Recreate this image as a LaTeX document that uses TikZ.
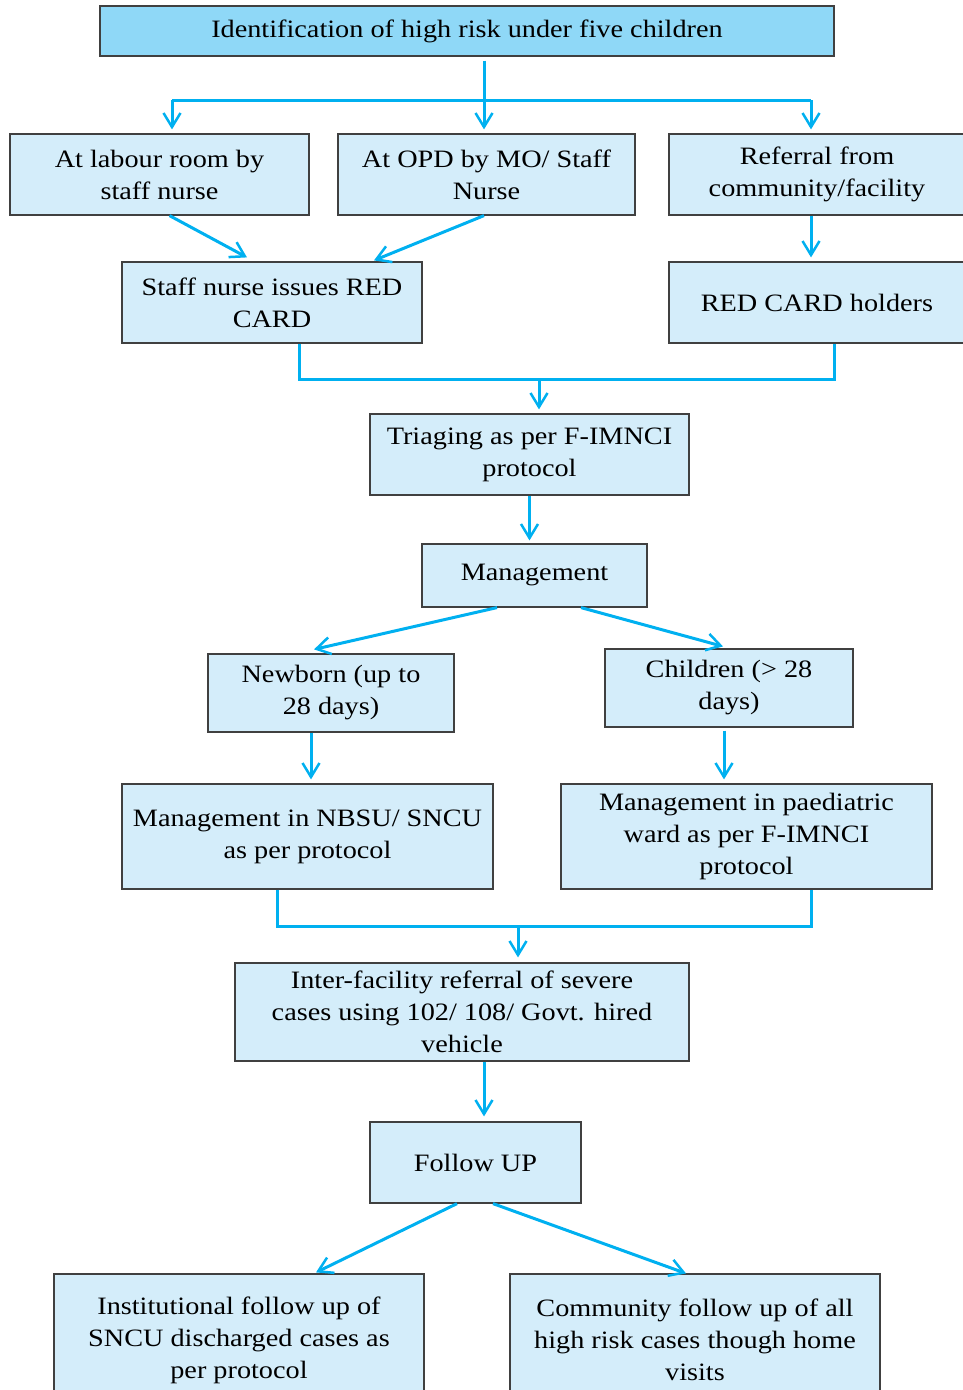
\documentclass[tikz,border=0pt]{standalone}
\usepackage{fontspec}
\setmainfont[FakeStretch=1.13]{Liberation Serif}
\usepackage{xcolor}
\definecolor{flow-blue}{RGB}{0,176,240}
\definecolor{head-fill}{RGB}{143,216,247}
\definecolor{box-fill}{RGB}{212,237,250}
\definecolor{box-line}{RGB}{64,64,64}
\usetikzlibrary{arrows.meta,calc}

\begin{document}
\begin{tikzpicture}[x=1pt,y=-1pt,
	stepbox/.style={draw=box-line,line width=1.2pt,fill=box-fill,align=center,
		inner sep=0pt,font=\fontsize{25}{32}\selectfont},
	wire/.style={draw=flow-blue,line width=3pt},
	flow/.style={wire,-{Straight Barb[length=14pt,width=17pt,line width=2.5pt]}},
	]
	
	\clip (0,0) rectangle (963,1390);
	
	% boxes
	\node[stepbox,fill=head-fill,minimum width=734pt,minimum height=50pt] (top) at (467,31)
		{Identification of high risk under five children};
	\node[stepbox,minimum width=299pt,minimum height=81pt] (labour) at (159.5,174.5)
		{At labour room by\\staff nurse};
	\node[stepbox,minimum width=297pt,minimum height=81pt] (opd) at (486.5,174.5)
		{At OPD by MO/ Staff\\Nurse};
	\node[stepbox,minimum width=296pt,minimum height=81pt] (referral) at (817,174.5)
		{Referral from\\community/facility};
	\node[stepbox,minimum width=300pt,minimum height=81pt] (issue) at (272,302.5)
		{Staff nurse issues RED\\CARD};
	\node[stepbox,minimum width=296pt,minimum height=81pt] (holders) at (817,302.5)
		{RED CARD holders};
	\node[stepbox,minimum width=319pt,minimum height=81pt] (triage) at (529.5,454.5)
		{Triaging as per F-IMNCI\\protocol};
	\node[stepbox,minimum width=225pt,minimum height=63pt] (manage) at (534.5,575.5)
		{Management};
	\node[stepbox,minimum width=246pt,minimum height=78pt] (newborn) at (331,693)
		{Newborn (up to\\28 days)};
	\node[stepbox,minimum width=248pt,minimum height=78pt] (child) at (729,688)
		{Children (> 28\\days)};
	\node[stepbox,minimum width=371pt,minimum height=105pt] (sncu) at (307.5,836.5)
		{Management in NBSU/ SNCU\\as per protocol};
	\node[stepbox,minimum width=371pt,minimum height=105pt] (ward) at (746.5,836.5)
		{Management in paediatric\\ward as per F-IMNCI\\protocol};
	\node[stepbox,minimum width=454pt,minimum height=98pt] (transfer) at (462,1012)
		{Inter-facility referral of severe\\cases using 102/ 108/ Govt. hired\\vehicle};
	\node[stepbox,minimum width=211pt,minimum height=81pt] (follow) at (475.5,1162.5)
		{Follow UP};
	\node[stepbox,minimum width=370pt,minimum height=132pt] (inst) at (239,1340)
		{Institutional follow up of\\SNCU discharged cases as\\per protocol};
	\node[stepbox,minimum width=370pt,minimum height=132pt] (home) at (695,1340)
		{Community follow up of all\\high risk cases though home\\visits};
	
	% branch points
	\coordinate (split) at (484,100);
	\coordinate (splitL) at (172,100);
	\coordinate (splitR) at (811,100);
	\coordinate (joinA) at (834,379);
	\coordinate (joinAm) at (539,379);
	\coordinate (joinB) at (811,926);
	\coordinate (joinBm) at (518,926);
	
	% connectors
	\draw[flow,shorten <=4pt,shorten >=4pt] (top.south -| split) -- (opd.north -| split);
	\draw[wire] (splitL) -- (splitR);
	\draw[flow,shorten >=4pt] (splitL) -- (labour.north -| splitL);
	\draw[flow,shorten >=4pt] (splitR) -- (referral.north -| splitR);
	
	\draw[flow] ([xshift=10pt]labour.south) -- ([xshift=-25pt,yshift=4pt]issue.north);
	\draw[flow] ([xshift=-2.5pt]opd.south) -- ([xshift=102pt,yshift=1pt]issue.north);
	\draw[flow,shorten >=4pt] (referral.south -| splitR) -- (holders.north -| splitR);
	
	\draw[wire] ([xshift=27pt]issue.south) |- (joinA) -- ([xshift=17pt]holders.south);
	\draw[flow,shorten >=4pt] (joinAm) -- (triage.north -| joinAm);
	
	\draw[flow,shorten >=3pt] (triage.south) -- (triage.south |- manage.north);
	\draw[flow] ([xshift=-37.5pt]manage.south) -- ([xshift=-17pt,yshift=4pt]newborn.north);
	\draw[flow] ([xshift=46.5pt]manage.south) -- ([xshift=-6pt,yshift=2pt]child.north);
	
	\draw[flow,shorten >=4pt] ([xshift=-20pt]newborn.south) -- ([xshift=3.5pt]sncu.north);
	\draw[flow,shorten <=3pt,shorten >=4pt] ([xshift=-5pt]child.south) -- ([xshift=-22.5pt]ward.north);
	
	\draw[wire] ([xshift=-30.5pt]sncu.south) |- (joinB) -- ([xshift=64.5pt]ward.south);
	\draw[flow,shorten >=5pt] (joinBm) -- (transfer.north -| joinBm);
	
	\draw[flow,shorten >=5pt] ([xshift=22pt]transfer.south) -- ([xshift=8.5pt]follow.north);
	\draw[flow] ([xshift=-18.5pt]follow.south) -- ([xshift=77pt,yshift=1pt]inst.north);
	\draw[flow] ([xshift=17.5pt]follow.south) -- ([xshift=-9pt]home.north);
	
\end{tikzpicture}
\end{document}
